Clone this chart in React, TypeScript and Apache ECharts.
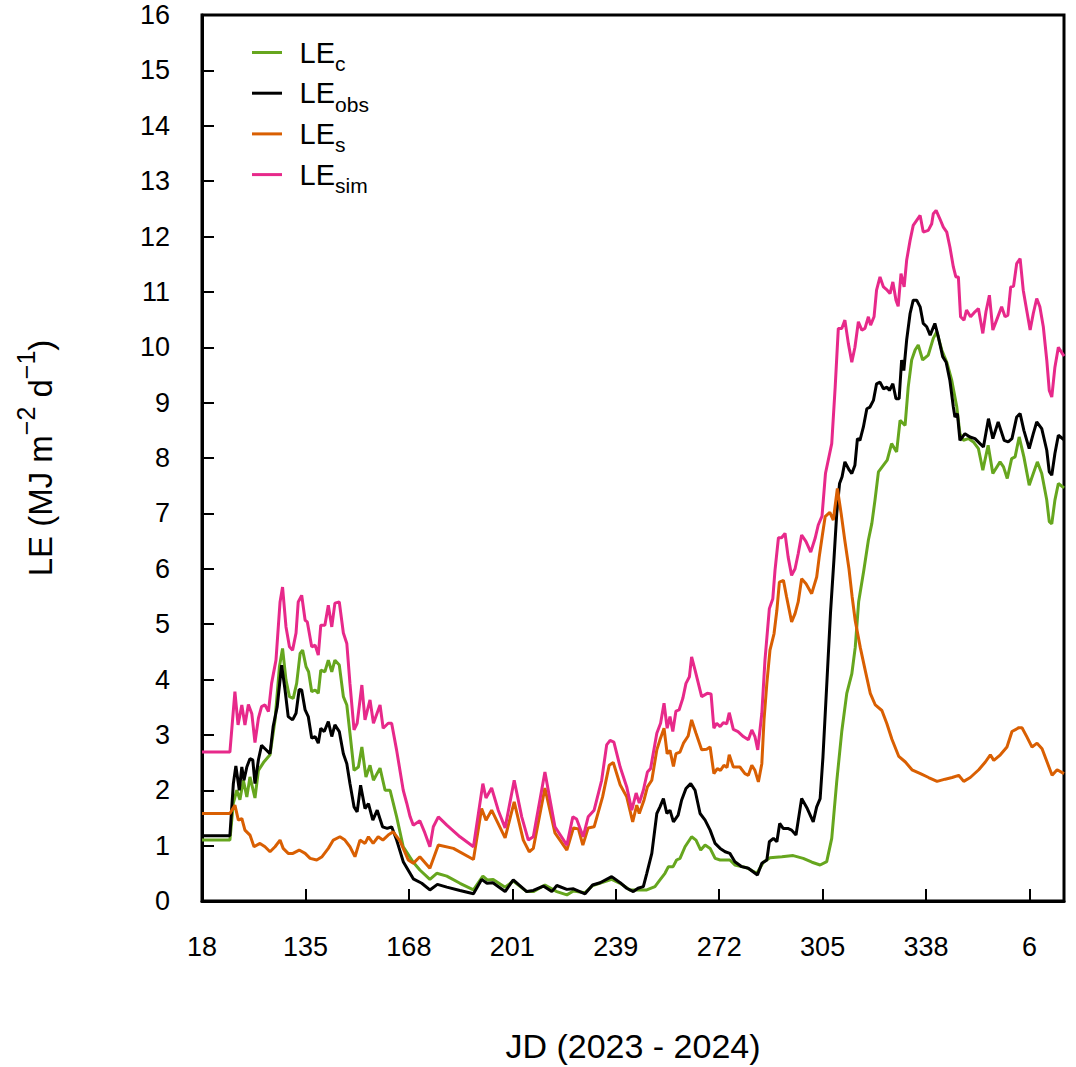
import React, { useEffect, useRef } from 'react';
import * as echarts from 'echarts';

// x-axis: days since start of record; one tick every 33 days
const xTickLabels = ['18', '135', '168', '201', '239', '272', '305', '338', '6'];
const xTickStep = 33;
const xMax = 275;
const yMax = 16;

const seriesNames = ['LEc', 'LEobs', 'LEs', 'LEsim'];
const seriesSubs = ['c', 'obs', 's', 'sim'];
const seriesColors = ['#66a61e', '#000000', '#d95f02', '#e7298a'];

// [day, LE (MJ m-2 d-1)]
const LE_c: [number, number][] = [
  [0, 1.1], [8.9, 1.1], [10.0, 1.77], [11.1, 2.0], [12.1, 1.83], [13.2, 2.18], [14.3, 1.88], [15.3, 2.24],
  [16.9, 1.86], [18.0, 2.36], [19.6, 2.5], [21.7, 2.64], [23.3, 3.27], [24.7, 4.23], [25.7, 4.56], [26.8, 3.99],
  [27.9, 3.69], [29.1, 3.66], [30.2, 3.93], [31.3, 4.47], [32.1, 4.53], [33.2, 4.23], [34.0, 4.14], [35.0, 3.78],
  [36.1, 3.81], [37.1, 3.75], [37.9, 4.17], [39.2, 4.14], [40.3, 4.35], [41.4, 4.14], [42.4, 4.35], [43.8, 4.26],
  [45.1, 3.69], [46.2, 3.54], [47.2, 3.03], [48.5, 2.36], [49.9, 2.42], [51.0, 2.78], [52.3, 2.24], [53.6, 2.45],
  [54.7, 2.18], [56.8, 2.4], [58.4, 2.0], [60.0, 2.0], [62.1, 1.52], [64.2, 0.98], [67.4, 0.7], [69.5, 0.56],
  [72.7, 0.39], [74.9, 0.5], [78.1, 0.45], [82.3, 0.32], [86.6, 0.2], [89.6, 0.45], [91.0, 0.38], [92.9, 0.39],
  [96.7, 0.25], [99.3, 0.36], [103.6, 0.17], [105.7, 0.17], [109.4, 0.29], [113.2, 0.17], [116.4, 0.11], [118.5, 0.18],
  [122.2, 0.15], [124.7, 0.28], [130.7, 0.39], [133.4, 0.32], [136.5, 0.2], [141.9, 0.2], [144.5, 0.26], [146.1, 0.38],
  [147.7, 0.5], [148.8, 0.62], [150.3, 0.62], [151.4, 0.74], [152.5, 0.77], [154.1, 0.98], [156.2, 1.16], [157.6, 1.1],
  [159.1, 0.92], [160.5, 1.01], [162.1, 0.95], [163.7, 0.77], [165.3, 0.74], [168.4, 0.74], [170.0, 0.65], [173.8, 0.6],
  [177.0, 0.5], [179.1, 0.7], [181.2, 0.78], [185.0, 0.8], [188.6, 0.82], [191.8, 0.77], [194.6, 0.7], [197.2, 0.65],
  [199.3, 0.71], [200.9, 1.13], [202.5, 2.16], [204.1, 3.06], [205.7, 3.75], [207.3, 4.1], [208.4, 4.58], [209.5, 5.41],
  [211.1, 5.96], [212.6, 6.52], [213.7, 6.82], [214.7, 7.24], [215.8, 7.75], [217.4, 7.87], [218.6, 7.96], [220.0, 8.26],
  [221.6, 8.11], [222.7, 8.68], [224.3, 8.59], [225.3, 9.28], [226.4, 9.77], [227.5, 9.95], [228.5, 10.04], [229.9, 9.77],
  [231.7, 9.86], [233.3, 10.16], [234.4, 10.28], [236.0, 9.95], [237.6, 9.73], [239.2, 9.4], [240.8, 8.92], [241.8, 8.44],
  [242.9, 8.32], [244.5, 8.35], [246.1, 8.29], [247.7, 8.17], [249.1, 7.78], [250.8, 8.23], [252.3, 7.72], [254.6, 7.93],
  [255.7, 7.84], [256.9, 7.63], [258.3, 7.99], [259.4, 8.02], [260.7, 8.38], [262.2, 8.02], [263.9, 7.51], [265.2, 7.72],
  [266.5, 7.93], [267.9, 7.72], [269.5, 7.24], [270.3, 6.85], [271.1, 6.81], [272.1, 7.24], [273.2, 7.54], [275.0, 7.46]
];

const LE_obs: [number, number][] = [
  [0, 1.18], [8.9, 1.18], [10.0, 2.12], [10.8, 2.44], [11.9, 2.0], [12.7, 2.42], [13.4, 2.18], [14.3, 2.42],
  [15.3, 2.57], [16.2, 2.55], [16.9, 2.12], [18.0, 2.55], [19.0, 2.81], [20.1, 2.75], [21.7, 2.66], [22.7, 3.15],
  [24.0, 3.51], [25.4, 4.26], [26.5, 3.81], [27.5, 3.33], [28.9, 3.27], [30.0, 3.39], [31.0, 3.82], [31.8, 3.81],
  [32.9, 3.45], [33.9, 3.33], [35.0, 2.94], [36.1, 2.97], [37.1, 2.85], [37.9, 3.12], [39.0, 3.06], [40.3, 3.24],
  [41.4, 2.97], [42.4, 3.18], [43.8, 3.06], [45.1, 2.66], [46.2, 2.48], [47.2, 2.12], [48.5, 1.7], [49.5, 1.61],
  [50.6, 2.09], [52.0, 1.67], [53.1, 1.76], [54.5, 1.46], [55.9, 1.64], [57.6, 1.34], [59.1, 1.31], [60.5, 1.34],
  [62.1, 1.1], [64.2, 0.71], [67.4, 0.4], [70.1, 0.32], [72.7, 0.2], [75.1, 0.3], [78.1, 0.25], [82.3, 0.19],
  [86.6, 0.13], [89.2, 0.39], [90.9, 0.32], [92.8, 0.33], [96.7, 0.17], [99.3, 0.38], [103.6, 0.17], [105.7, 0.19],
  [108.9, 0.27], [111.6, 0.17], [113.2, 0.28], [116.4, 0.21], [118.5, 0.22], [122.2, 0.13], [124.6, 0.29], [127.0, 0.33],
  [130.7, 0.44], [133.4, 0.33], [135.5, 0.23], [137.6, 0.17], [139.1, 0.23], [140.8, 0.26], [141.9, 0.5], [143.5, 0.86],
  [145.1, 1.58], [146.1, 1.7], [147.2, 1.85], [148.3, 1.58], [149.3, 1.64], [150.4, 1.43], [151.9, 1.55], [153.0, 1.82],
  [154.4, 2.03], [155.9, 2.12], [157.3, 2.0], [158.9, 1.58], [160.5, 1.46], [162.1, 1.28], [163.7, 1.04], [165.3, 0.95],
  [166.9, 0.89], [168.4, 0.86], [170.0, 0.71], [172.2, 0.62], [174.3, 0.59], [177.2, 0.47], [178.6, 0.68], [180.2, 0.74],
  [181.0, 1.07], [182.3, 1.13], [183.4, 1.07], [184.3, 1.4], [185.4, 1.31], [186.9, 1.31], [188.1, 1.28], [189.5, 1.19],
  [191.3, 1.85], [193.1, 1.67], [195.0, 1.43], [196.1, 1.7], [197.2, 1.85], [198.1, 2.6], [199.4, 4.0], [200.5, 5.2],
  [201.6, 6.16], [202.5, 7.0], [203.4, 7.54], [204.2, 7.66], [205.1, 7.93], [206.5, 7.78], [207.3, 7.72], [208.3, 7.87],
  [209.1, 8.35], [209.9, 8.32], [211.0, 8.56], [212.1, 8.89], [213.1, 8.92], [214.2, 9.04], [215.2, 9.34], [216.3, 9.37],
  [217.4, 9.25], [218.5, 9.28], [219.3, 9.22], [220.4, 9.34], [221.4, 9.07], [222.4, 9.07], [223.2, 9.77], [223.9, 9.58],
  [224.8, 10.13], [225.9, 10.61], [226.9, 10.85], [228.0, 10.85], [229.1, 10.73], [230.1, 10.43], [231.2, 10.37], [232.3, 10.22],
  [233.8, 10.43], [234.9, 10.19], [236.3, 9.83], [237.4, 9.73], [238.6, 9.4], [239.7, 8.92], [240.2, 8.74], [241.0, 8.8],
  [241.8, 8.32], [243.4, 8.44], [245.0, 8.38], [246.6, 8.35], [248.2, 8.26], [249.3, 8.2], [250.9, 8.71], [252.3, 8.35],
  [254.0, 8.65], [255.9, 8.32], [257.2, 8.29], [258.4, 8.35], [259.9, 8.74], [261.0, 8.8], [262.2, 8.5], [263.9, 8.17],
  [265.2, 8.44], [266.3, 8.65], [267.9, 8.53], [269.5, 8.14], [270.3, 7.75], [271.1, 7.69], [272.1, 8.08], [273.2, 8.41],
  [275.0, 8.33]
];

const LE_s: [number, number][] = [
  [0, 1.58], [8.9, 1.58], [10.5, 1.73], [11.6, 1.46], [12.7, 1.49], [13.7, 1.28], [15.3, 1.19], [16.6, 0.98],
  [18.5, 1.04], [20.1, 0.98], [21.7, 0.89], [23.3, 0.98], [24.9, 1.1], [25.9, 0.95], [27.5, 0.86], [29.0, 0.86],
  [31.0, 0.92], [32.9, 0.86], [34.5, 0.77], [36.6, 0.74], [38.3, 0.8], [40.3, 0.95], [41.9, 1.1], [44.0, 1.16],
  [45.6, 1.1], [47.2, 0.98], [48.8, 0.8], [50.4, 1.1], [52.0, 1.04], [53.1, 1.16], [54.6, 1.04], [56.2, 1.16],
  [57.7, 1.1], [59.4, 1.19], [61.0, 1.25], [63.2, 1.08], [65.8, 0.74], [67.4, 0.68], [69.5, 0.8], [72.7, 0.59],
  [75.4, 1.01], [80.2, 0.95], [86.6, 0.75], [89.2, 1.67], [90.6, 1.46], [92.4, 1.64], [96.7, 1.14], [99.6, 1.79],
  [102.5, 1.1], [104.4, 0.89], [105.7, 0.95], [109.4, 2.04], [112.6, 1.23], [116.4, 0.92], [118.5, 1.32], [120.1, 1.3],
  [121.5, 1.01], [123.2, 1.32], [125.1, 1.34], [127.8, 1.88], [129.9, 2.45], [131.2, 2.5], [133.4, 2.1], [135.5, 1.88],
  [137.4, 1.43], [138.7, 1.73], [139.5, 1.58], [141.0, 1.82], [142.1, 2.06], [143.5, 2.18], [145.1, 2.73], [146.1, 2.91],
  [147.4, 3.12], [148.4, 2.66], [149.3, 2.72], [150.4, 2.43], [151.2, 2.66], [152.5, 2.69], [153.6, 2.85], [155.1, 2.98],
  [156.2, 3.27], [157.6, 3.03], [159.4, 2.73], [161.0, 2.74], [162.1, 2.78], [163.3, 2.3], [164.4, 2.39], [165.4, 2.36],
  [166.5, 2.45], [167.5, 2.41], [168.2, 2.64], [169.5, 2.42], [171.6, 2.42], [173.2, 2.3], [174.3, 2.27], [175.4, 2.45],
  [176.4, 2.36], [177.5, 2.15], [178.6, 2.48], [179.3, 3.27], [180.2, 3.93], [181.2, 4.53], [182.5, 4.83], [183.4, 5.25],
  [184.2, 5.76], [185.5, 5.79], [186.5, 5.49], [188.1, 5.04], [189.2, 5.19], [190.2, 5.4], [191.3, 5.82], [192.7, 5.73],
  [194.5, 5.55], [196.1, 5.85], [196.9, 6.21], [197.9, 6.6], [198.8, 6.94], [200.3, 7.02], [201.4, 6.88], [202.7, 7.45],
  [203.9, 7.0], [205.1, 6.5], [206.4, 6.0], [207.4, 5.5], [208.4, 5.06], [210.0, 4.58], [211.6, 4.16], [213.2, 3.75],
  [214.8, 3.54], [216.9, 3.44], [218.5, 3.2], [220.1, 2.92], [222.3, 2.61], [224.4, 2.51], [226.5, 2.37], [229.2, 2.3],
  [231.8, 2.23], [234.5, 2.16], [237.1, 2.2], [239.3, 2.23], [241.4, 2.27], [243.0, 2.16], [245.1, 2.23], [247.8, 2.37],
  [249.9, 2.51], [251.5, 2.64], [252.6, 2.54], [254.7, 2.64], [256.8, 2.78], [258.4, 3.06], [260.6, 3.13], [261.6, 3.13],
  [263.2, 2.96], [264.8, 2.78], [266.4, 2.85], [268.0, 2.75], [269.6, 2.51], [271.2, 2.27], [272.8, 2.37], [275.0, 2.3]
];

const LE_sim: [number, number][] = [
  [0, 2.69], [8.9, 2.69], [10.5, 3.78], [11.5, 3.18], [12.7, 3.54], [13.7, 3.18], [14.8, 3.55], [15.9, 3.38],
  [16.9, 2.86], [18.0, 3.3], [19.0, 3.51], [20.1, 3.54], [21.2, 3.42], [22.2, 3.93], [23.6, 4.35], [24.9, 5.4],
  [25.7, 5.67], [26.8, 4.95], [27.9, 4.59], [28.9, 4.53], [30.0, 4.84], [30.7, 5.4], [31.8, 5.52], [32.9, 5.07],
  [33.6, 5.04], [35.0, 4.59], [36.1, 4.62], [37.1, 4.44], [37.9, 4.98], [39.2, 4.98], [40.3, 5.34], [41.4, 4.95],
  [42.4, 5.38], [43.8, 5.4], [45.1, 4.84], [46.2, 4.65], [47.2, 3.93], [48.5, 3.09], [49.5, 3.21], [51.0, 3.9],
  [52.0, 3.27], [53.6, 3.63], [54.7, 3.21], [56.8, 3.54], [57.8, 3.12], [59.4, 3.21], [60.5, 3.21], [62.1, 2.72],
  [64.2, 2.0], [65.3, 1.77], [66.4, 1.52], [67.4, 1.37], [69.5, 1.45], [71.1, 1.23], [72.7, 0.98], [73.8, 1.34],
  [75.4, 1.52], [78.1, 1.37], [82.3, 1.16], [86.6, 0.98], [89.6, 2.12], [90.6, 1.86], [92.4, 2.04], [94.5, 1.64],
  [96.7, 1.32], [99.6, 2.18], [102.0, 1.52], [104.1, 1.1], [105.7, 1.16], [109.4, 2.33], [112.6, 1.34], [116.4, 1.01],
  [118.3, 1.52], [119.5, 1.48], [121.6, 1.16], [123.2, 1.52], [125.1, 1.64], [127.5, 2.18], [129.1, 2.82], [130.2, 2.9],
  [131.4, 2.87], [133.4, 2.42], [135.5, 2.06], [137.1, 1.64], [138.5, 1.95], [139.5, 1.77], [140.8, 2.0], [142.1, 2.33],
  [143.1, 2.39], [145.1, 3.03], [146.3, 3.21], [147.4, 3.57], [148.4, 3.12], [149.3, 3.33], [150.2, 3.06], [151.2, 3.43],
  [152.2, 3.45], [153.4, 3.66], [154.4, 3.93], [155.5, 4.05], [156.2, 4.41], [157.3, 4.17], [159.4, 3.69], [161.2, 3.75],
  [162.4, 3.74], [163.3, 3.12], [164.2, 3.21], [165.3, 3.15], [166.3, 3.22], [167.4, 3.2], [168.2, 3.4], [169.5, 3.1],
  [171.0, 3.06], [172.7, 2.97], [174.3, 2.91], [175.4, 3.09], [176.4, 2.97], [177.3, 2.73], [178.6, 3.39], [179.6, 4.35],
  [181.0, 5.28], [182.1, 5.46], [182.8, 5.97], [183.9, 6.56], [184.9, 6.56], [186.0, 6.64], [187.0, 6.21], [188.1, 5.88],
  [189.2, 6.0], [190.2, 6.27], [191.3, 6.61], [192.7, 6.49], [194.2, 6.3], [195.6, 6.55], [196.6, 6.79], [197.8, 6.95],
  [198.9, 7.72], [200.9, 8.26], [202.0, 9.28], [203.0, 10.34], [204.1, 10.34], [205.1, 10.49], [206.2, 10.07], [207.3, 9.73],
  [208.3, 10.0], [209.4, 10.46], [210.5, 10.31], [211.5, 10.34], [212.6, 10.55], [213.3, 10.4], [214.4, 10.55], [215.2, 11.03],
  [216.3, 11.27], [217.4, 11.09], [218.6, 11.03], [219.5, 10.97], [220.4, 11.18], [221.4, 10.85], [222.1, 10.74], [223.0, 11.33],
  [224.0, 11.09], [224.8, 11.57], [225.9, 11.93], [226.9, 12.2], [228.0, 12.29], [229.1, 12.38], [230.1, 12.08], [231.7, 12.11],
  [232.8, 12.23], [233.3, 12.41], [234.2, 12.47], [235.4, 12.32], [236.5, 12.17], [237.6, 12.08], [238.6, 11.81], [239.7, 11.45],
  [240.5, 11.27], [241.3, 11.27], [242.0, 10.55], [243.1, 10.49], [243.9, 10.67], [245.2, 10.55], [246.6, 10.64], [247.7, 10.7],
  [249.1, 10.25], [250.1, 10.64], [251.2, 10.94], [252.3, 10.31], [253.5, 10.49], [255.1, 10.73], [256.2, 10.55], [257.1, 10.58],
  [258.0, 11.09], [258.9, 11.1], [259.9, 11.51], [261.0, 11.6], [262.0, 11.03], [263.1, 10.67], [264.2, 10.31], [265.2, 10.61],
  [266.3, 10.88], [267.3, 10.73], [268.4, 10.37], [269.5, 9.77], [270.3, 9.22], [271.1, 9.1], [272.1, 9.64], [273.2, 10.0],
  [275.0, 9.84]
];

const seriesData = [LE_c, LE_obs, LE_s, LE_sim];

const FONT = '"Liberation Sans", Arial, Helvetica, sans-serif';

export default function App() {
  const ref = useRef<HTMLDivElement>(null);

  useEffect(() => {
    if (!ref.current) return;
    const chart = echarts.init(ref.current, undefined, { renderer: 'svg' });

    const option: any = {
      animation: false,
      backgroundColor: '#ffffff',
      textStyle: { fontFamily: FONT, color: '#000' },
      grid: {
        left: 202,
        top: 15,
        width: 862,
        height: 886,
        show: true,
        borderColor: '#000',
        borderWidth: 3,
        backgroundColor: 'transparent',
        containLabel: false,
        outerBoundsMode: 'none',
      },
      legend: {
        orient: 'vertical',
        left: 252,
        top: 38,
        padding: 0,
        itemGap: 4.7,
        itemWidth: 30,
        itemHeight: 3,
        icon: 'rect',
        data: seriesNames,
        formatter: (name: string) => `{m|LE}{s|${seriesSubs[seriesNames.indexOf(name)]}}`,
        textStyle: {
          fontFamily: FONT,
          color: '#000',
          rich: {
            m: { fontSize: 29, lineHeight: 29, fontFamily: FONT, color: '#000', verticalAlign: 'top', padding: [0, 0, 0, 12.6] },
            s: { fontSize: 21, lineHeight: 19, fontFamily: FONT, color: '#000', verticalAlign: 'top', padding: [15, 0, 0, 0] },
          },
        },
      },
      xAxis: {
        type: 'value',
        min: 0,
        max: xMax,
        interval: xTickStep,
        splitLine: { show: false },
        axisLine: { show: true, onZero: false, lineStyle: { color: '#000', width: 3 } },
        axisTick: { show: true, inside: true, length: 12, lineStyle: { color: '#000', width: 2 } },
        axisLabel: {
          margin: 32,
          fontSize: 27,
          fontFamily: FONT,
          color: '#000',
          formatter: (v: number) => {
            const k = v / xTickStep;
            if (Math.abs(k - Math.round(k)) > 1e-6) return '';
            return xTickLabels[Math.round(k)] ?? '';
          },
        },
      },
      yAxis: {
        type: 'value',
        min: 0,
        max: yMax,
        interval: 1,
        splitLine: { show: false },
        axisLine: { show: true, lineStyle: { color: '#000', width: 3 } },
        axisTick: { show: true, inside: true, length: 12, lineStyle: { color: '#000', width: 2 } },
        axisLabel: { margin: 32, fontSize: 27, fontFamily: FONT, color: '#000' },
      },
      graphic: [
        {
          type: 'text',
          x: 633,
          y: 1046,
          style: {
            text: 'JD (2023 - 2024)',
            fontSize: 34,
            fontFamily: FONT,
            fill: '#000',
            align: 'center',
            verticalAlign: 'middle',
          },
        },
        {
          type: 'text',
          x: 40,
          y: 458,
          rotation: Math.PI / 2,
          style: {
            text: '{a|LE (MJ m}{p|\u22122}{a| d}{p|\u22121}{a|)}',
            fill: '#000',
            align: 'center',
            verticalAlign: 'middle',
            rich: {
              a: { fontSize: 33, lineHeight: 33, fontFamily: FONT, fill: '#000', verticalAlign: 'bottom' },
              p: { fontSize: 25, lineHeight: 25, fontFamily: FONT, fill: '#000', verticalAlign: 'bottom', padding: [0, 0, 18, 0] },
            },
          },
        },
      ],
      series: seriesNames.map((name, i) => ({
        name,
        type: 'line',
        data: seriesData[i],
        showSymbol: false,
        symbol: 'none',
        smooth: false,
        z: 2 + i,
        lineStyle: { color: seriesColors[i], width: 3 },
        itemStyle: { color: seriesColors[i] },
      })),
    };

    chart.setOption(option);
    return () => chart.dispose();
  }, []);

  return (
    <div
      ref={ref}
      style={{ position: 'fixed', left: 0, top: 0, width: 1076, height: 1067, background: '#fff' }}
    />
  );
}
